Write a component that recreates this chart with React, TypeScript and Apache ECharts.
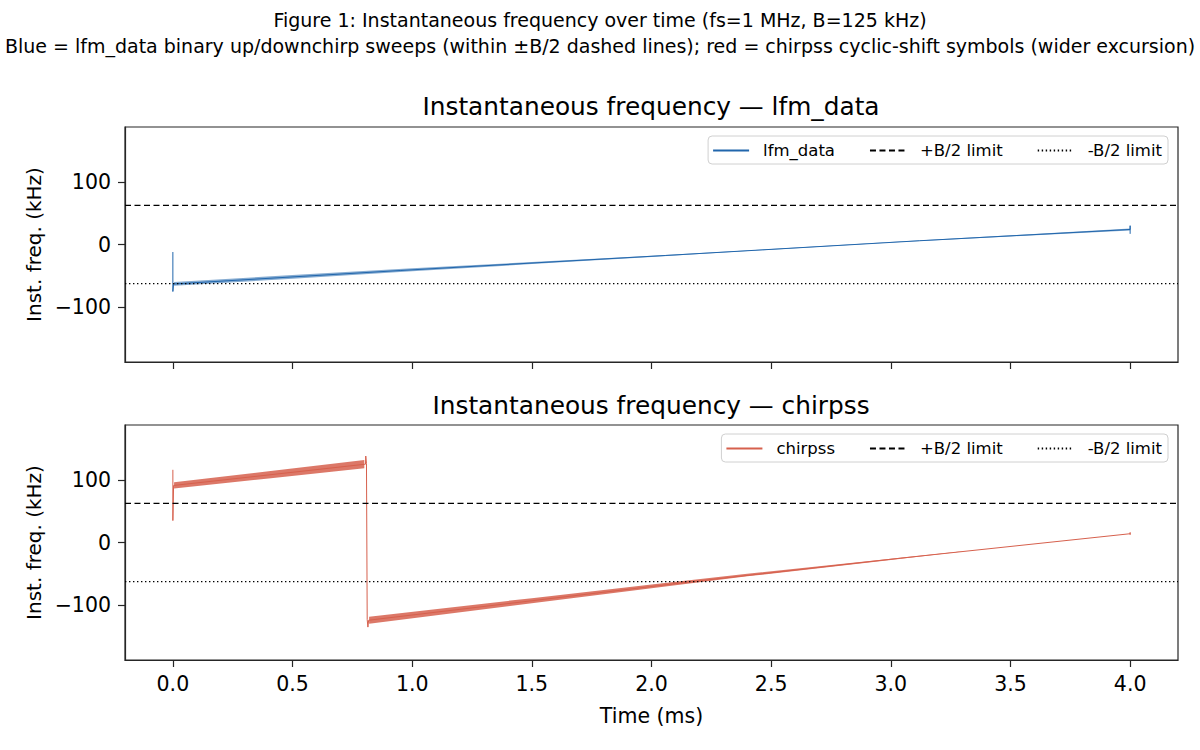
import React, { useEffect, useRef } from "react";
import * as echarts from "echarts";

// Instantaneous-frequency traces (time in ms, frequency in kHz)
const lfmTime = [0, 0, 0.003, 0.95, 2.06, 3.12, 4.0, 4.0, 4.0];
const lfmFreq = [-12, -75, -63, -41.5, -17.5, 6, 24, 30, 17];

const chirpTime = [0, 0, 0.003, 0.805, 0.806, 0.809, 0.812, 0.815, 0.818, 2.17, 3.04, 4.0, 4.0, 4.0];
const chirpFreq = [116, 35, 91, 125, 138, 126, -123, -135, -124, -62.5, -25, 14, 16, 12];

// Ripple envelopes around the sweeps (low / high edge, kHz)
const lfmRippleTime = [0.005, 0.5, 1.0, 1.5, 2.0, 2.5, 3.0, 3.5, 4.0];
const lfmRippleLow = [-66.0, -54.6, -42.8, -31.2, -19.8, -8.2, 3.0, 12.8, 22.5];
const lfmRippleHigh = [-60.0, -48.8, -38.0, -28.0, -17.8, -7.2, 3.8, 14.8, 25.5];

const chirpRippleATime = [0.005, 0.4, 0.8];
const chirpRippleALow = [86, 102.2, 118.5];
const chirpRippleAHigh = [96, 113.8, 131.5];

const chirpRippleBTime = [0.82, 1.5, 2.0, 2.4, 3.0, 3.3];
const chirpRippleBLow = [-129.5, -97.0, -73.2, -54.0, -28.0, -14.2];
const chirpRippleBHigh = [-118.5, -88.8, -67.2, -50.0, -26.0, -13.8];

// Axis ticks and limits
const timeTicks = [0, 0.5, 1.0, 1.5, 2.0, 2.5, 3.0, 3.5, 4.0];
const freqTicks = [-100, 0, 100];
const timeRange = [-0.2, 4.2];
const freqRange = [-187.5, 187.5];
const halfBand = 62.5;

const BLUE = "#2166ac";
const RED = "#d6604d";
const INK = "#262626";
const FONT = "DejaVu Sans";

const zip = (xs: number[], ys: number[]) => xs.map((x, i) => [x, ys[i]]);

function rippleSeries(
  time: number[],
  low: number[],
  high: number[],
  color: string,
  opacity: number,
  axis: number
) {
  return {
    type: "custom",
    xAxisIndex: axis,
    yAxisIndex: axis,
    silent: true,
    z: 2,
    data: time.map((t, i) => [t, low[i], high[i]]),
    encode: { x: 0, y: [1, 2] },
    renderItem: (params: any, api: any) => {
      if (params.dataIndex !== 0) return null;
      const upper = time.map((t, i) => api.coord([t, high[i]]));
      const lower = time.map((t, i) => api.coord([t, low[i]])).reverse();
      return {
        type: "polygon",
        shape: { points: upper.concat(lower) },
        style: { fill: color, opacity },
      };
    },
  };
}

function limitSeries(axis: number) {
  return [
    {
      name: "+B/2 limit",
      type: "line",
      xAxisIndex: axis,
      yAxisIndex: axis,
      data: [
        [timeRange[0], halfBand],
        [timeRange[1], halfBand],
      ],
      symbol: "none",
      silent: true,
      z: 4,
      lineStyle: { color: "#000", width: 1.3, type: [6, 3.5] },
      itemStyle: { color: "#000" },
    },
    {
      name: "-B/2 limit",
      type: "line",
      xAxisIndex: axis,
      yAxisIndex: axis,
      data: [
        [timeRange[0], -halfBand],
        [timeRange[1], -halfBand],
      ],
      symbol: "none",
      silent: true,
      z: 4,
      lineStyle: { color: "#000", width: 1.3, type: [1.4, 2.6] },
      itemStyle: { color: "#000" },
    },
  ];
}

const gridTops = [127, 425];

function legendFor(first: string, top: number) {
  return {
    data: [first, "+B/2 limit", "-B/2 limit"],
    right: 32,
    top,
    orient: "horizontal",
    itemWidth: 36,
    itemHeight: 15,
    itemGap: 34,
    padding: [6, 6, 5, 4],
    borderColor: "#d0d0d0",
    borderWidth: 1,
    borderRadius: 4,
    backgroundColor: "rgba(255,255,255,0.85)",
    selectedMode: false,
    itemStyle: { opacity: 0, borderWidth: 0 },
    textStyle: { fontSize: 16.5, color: "#000", fontFamily: FONT, padding: [0, 0, 0, 9] },
  };
}

function titleText(text: string, x: number, y: number, size: number) {
  return {
    type: "text",
    x,
    y,
    style: {
      text,
      fontSize: size,
      fontFamily: FONT,
      fill: "#000",
      align: "center",
      verticalAlign: "middle",
    },
  };
}

export default function App() {
  const ref = useRef<HTMLDivElement>(null);

  useEffect(() => {
    document.body.style.margin = "0";
    if (!ref.current) return;
    const chart = echarts.init(ref.current, null, { renderer: "svg" });

    const option: any = {
      animation: false,
      backgroundColor: "#fff",
      textStyle: { fontFamily: FONT },
      grid: gridTops.map((top) => ({
        left: 125,
        top,
        width: 1053,
        height: 235,
        show: true,
        borderColor: INK,
        borderWidth: 1.2,
        backgroundColor: "transparent",
      })),
      xAxis: gridTops.map((_, i) => ({
        type: "value",
        gridIndex: i,
        min: timeRange[0],
        max: timeRange[1],
        axisLine: { show: true, onZero: false, lineStyle: { color: INK, width: 1.2 } },
        axisTick: { show: true, customValues: timeTicks, length: 7, lineStyle: { color: INK, width: 1.2 } },
        axisLabel: {
          show: i === 1,
          customValues: timeTicks,
          formatter: (v: number) => v.toFixed(1),
          fontSize: 20.5,
          color: "#000",
          fontFamily: FONT,
          margin: 13,
        },
        splitLine: { show: false },
        name: i === 1 ? "Time (ms)" : "",
        nameLocation: "middle",
        nameGap: 45,
        nameTextStyle: { fontSize: 20.5, color: "#000", fontFamily: FONT },
      })),
      yAxis: gridTops.map((_, i) => ({
        type: "value",
        gridIndex: i,
        min: freqRange[0],
        max: freqRange[1],
        axisLine: { show: true, onZero: false, lineStyle: { color: INK, width: 1.2 } },
        axisTick: { show: true, customValues: freqTicks, length: 7, lineStyle: { color: INK, width: 1.2 } },
        axisLabel: {
          customValues: freqTicks,
          formatter: (v: number) => (v < 0 ? "\u2212" + Math.abs(v) : String(v)),
          fontSize: 20.5,
          color: "#000",
          fontFamily: FONT,
          margin: 14,
        },
        splitLine: { show: false },
        name: "Inst. freq. (kHz)",
        nameLocation: "middle",
        nameGap: 75,
        nameTextStyle: { fontSize: 20, color: "#000", fontFamily: FONT },
      })),
      legend: [legendFor("lfm_data", 136), legendFor("chirpss", 434)],
      graphic: [
        titleText("Figure 1: Instantaneous frequency over time (fs=1 MHz, B=125 kHz)", 600, 20, 19),
        titleText(
          "Blue = lfm_data binary up/downchirp sweeps (within \u00b1B/2 dashed lines); red = chirpss cyclic-shift symbols (wider excursion)",
          600,
          46,
          19
        ),
        titleText("Instantaneous frequency \u2014 lfm_data", 651, 106, 24.8),
        titleText("Instantaneous frequency \u2014 chirpss", 651, 405, 24.8),
      ],
      series: [
        rippleSeries(lfmRippleTime, lfmRippleLow, lfmRippleHigh, BLUE, 0.55, 0),
        {
          name: "lfm_data",
          type: "line",
          xAxisIndex: 0,
          yAxisIndex: 0,
          data: zip(lfmTime, lfmFreq),
          symbol: "none",
          z: 3,
          lineStyle: { color: BLUE, width: 1 },
          itemStyle: { color: BLUE },
        },
        ...limitSeries(0),
        rippleSeries(chirpRippleATime, chirpRippleALow, chirpRippleAHigh, RED, 0.85, 1),
        rippleSeries(chirpRippleBTime, chirpRippleBLow, chirpRippleBHigh, RED, 0.85, 1),
        {
          name: "chirpss",
          type: "line",
          xAxisIndex: 1,
          yAxisIndex: 1,
          data: zip(chirpTime, chirpFreq),
          symbol: "none",
          z: 3,
          lineStyle: { color: RED, width: 1 },
          itemStyle: { color: RED },
        },
        ...limitSeries(1),
      ],
    };

    chart.setOption(option);
    return () => chart.dispose();
  }, []);

  return <div ref={ref} style={{ width: 1200, height: 750 }} />;
}
